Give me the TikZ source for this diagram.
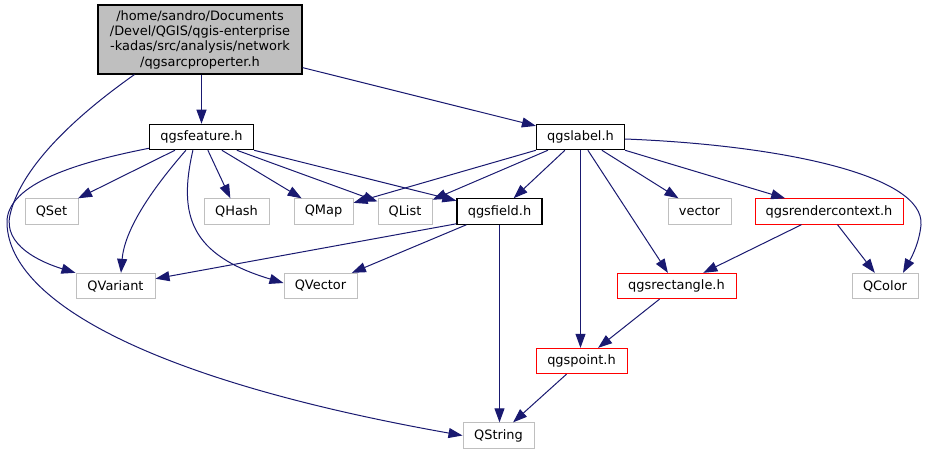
\documentclass[tikz,border=0pt]{standalone}
\usepackage{fontspec}
\setmainfont{DejaVu Sans}
\usetikzlibrary{arrows.meta,calc}
\definecolor{edgeblue}{HTML}{191970}
\definecolor{sysgray}{HTML}{BFBFBF}
\tikzset{
  incl/.style    = {rectangle, inner sep=0pt, line width=0.75pt,
                    minimum height=19pt, font=\fontsize{9.7}{11.5}\selectfont},
  docfile/.style = {incl, draw=black, line width=0.9pt},
  sysfile/.style = {incl, draw=sysgray},
  trunc/.style   = {incl, draw=red},
  wd/.style      = {minimum width=#1*0.75pt},
  dep/.style     = {edgeblue, line width=0.75pt, -{Triangle[length=10.5pt,width=7.5pt]}},
}

\begin{document}
\begin{tikzpicture}[x=0.75pt,y=-0.75pt]
\useasboundingbox (0,0) rectangle (929,455);
% files
\node[docfile,wd=204,minimum height=51.75pt,fill=sysgray,align=center] (root) at (200,39.5)
  {/home/sandro/Documents\\/Devel/QGIS/qgis-enterprise\\-kadas/src/analysis/network\\/qgsarcproperter.h};
\node[docfile,wd=104] (feat) at (201.5,137) {qgsfeature.h};
\node[docfile,wd=88] (label) at (580.5,137) {qgslabel.h};
\node[sysfile,wd=53] (qset) at (51.5,211.5) {QSet};
\node[sysfile,wd=65] (qhash) at (236.5,211.5) {QHash};
\node[sysfile,wd=59] (qmap) at (323.5,211.5) {QMap};
\node[sysfile,wd=54] (qlist) at (405,211.5) {QList};
\node[docfile,wd=85] (field) at (499.5,211.5) {qgsfield.h};
\node[sysfile,wd=63] (vec) at (699.5,211.5) {vector};
\node[trunc,wd=148] (rctx) at (829,211.5) {qgsrendercontext.h};
\node[sysfile,wd=79] (qvariant) at (115.5,286) {QVariant};
\node[sysfile,wd=73] (qvector) at (320.5,286) {QVector};
\node[trunc,wd=119] (rect) at (676.5,286) {qgsrectangle.h};
\node[sysfile,wd=66] (qcolor) at (885,286) {QColor};
\node[trunc,wd=91] (point) at (581.5,361) {qgspoint.h};
\node[sysfile,wd=71] (qstring) at (498.5,435.5) {QString};
% includes of the root file
\draw[dep] (root.south -| feat) -- (feat);
\draw[dep] ($(root.south east)+(0,-7)$) -- (label);
\draw[dep] ($(root.south west)+(37,0)$) .. controls (70,120) and (20,170) .. (10,215)
  .. controls (3,245) and (40,262) .. (qvariant.north west);
% qgsfeature.h
\draw[dep] ($(feat.south west)+(26,0)$) -- (qset);
\draw[dep] ($(feat.south west)+(37,0)$) .. controls (160,180) and (125,225) .. ($(qvariant.north)+(5.5,0)$);
\draw[dep] ($(feat.south west)+(44,0)$) .. controls (178,215) and (190,255) .. ($(qvector.west)+(0,-3)$);
\draw[dep] ($(feat.south west)+(59,0)$) -- (qhash);
\draw[dep] ($(feat.south west)+(73,0)$) -- (qmap);
\draw[dep] ($(feat.south west)+(88,0)$) -- (qlist);
\draw[dep] (feat.south east) -- (field);
\draw[dep] ($(feat.south west)+(0,-2)$) .. controls (90,160) and (10,180) .. (7,220)
  .. controls (5,300) and (150,380) .. (qstring.west);
% qgslabel.h
\draw[dep] (label.south west) -- (qmap);
\draw[dep] ($(label.south west)+(12,0)$) -- (qlist);
\draw[dep] ($(label.south west)+(29,0)$) -- (field);
\draw[dep] (label) -- (label |- point.north);
\draw[dep] ($(label.south west)+(52,0)$) -- (rect);
\draw[dep] ($(label.south west)+(66,0)$) -- (vec);
\draw[dep] (label.south east) -- (rctx);
\draw[dep] ($(label.east)+(0,2)$) .. controls (780,145) and (925,175) .. (921,225)
  .. controls (919,245) and (910,260) .. ($(qcolor.north)+(18,0)$);
% the rest
\draw[dep] ($(field.south west)+(0,-1)$) -- (qvariant);
\draw[dep] ($(field.south west)+(10,0)$) -- (qvector);
\draw[dep] (field) -- (field |- qstring.north);
\draw[dep] ($(rctx.south west)+(47,0)$) -- (rect);
\draw[dep] ($(rctx.south west)+(83,0)$) -- (qcolor);
\draw[dep] ($(rect.south west)+(43,0)$) -- (point);
\draw[dep] ($(point.south west)+(31,0)$) -- (qstring);
\end{tikzpicture}
\end{document}
